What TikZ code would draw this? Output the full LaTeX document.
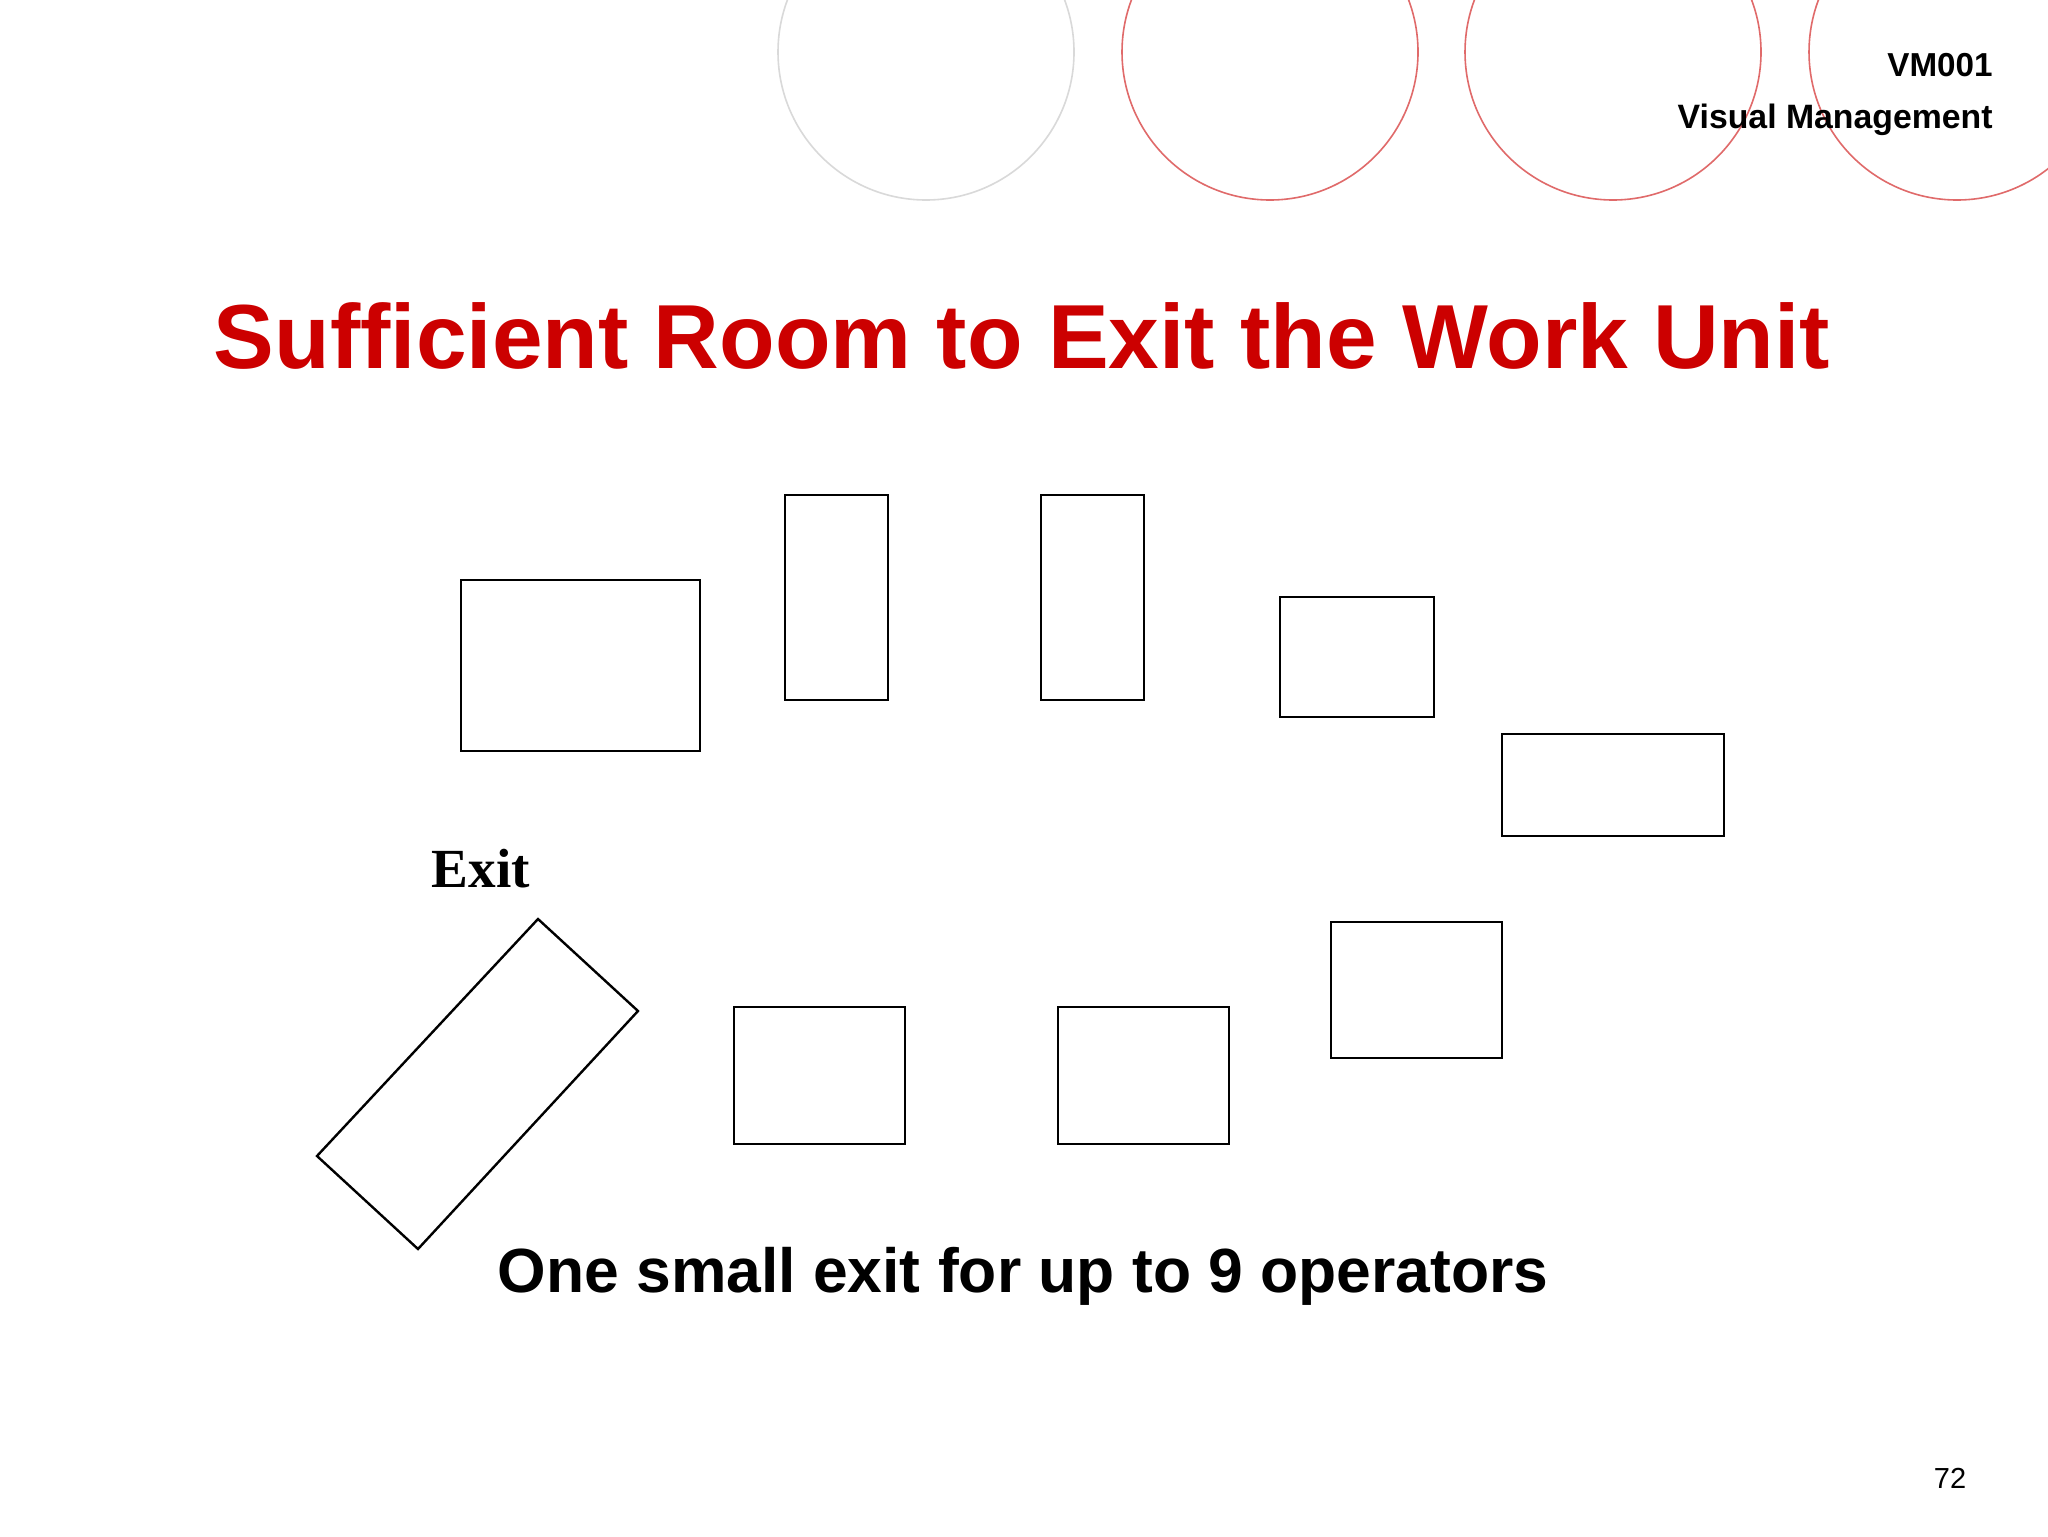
\documentclass[tikz,border=0pt]{standalone}
\usepackage{fontspec}
\setmainfont{Liberation Sans}
\newfontfamily\timesfont{Liberation Serif}
\definecolor{titlered}{HTML}{CC0000}
\definecolor{ringred}{HTML}{E06A6A}
\definecolor{ringgray}{HTML}{D9D9D9}
\tikzset{
  ring/.style={line width=0.8pt},
  box/.style={draw=black, line width=1.2pt},
  label/.style={inner sep=0pt, anchor=base}
}
\begin{document}
\begin{tikzpicture}[x=0.5pt,y=-0.5pt]
\useasboundingbox (0,0) rectangle (2048,1536);
\fill[white] (0,0) rectangle (2048,1536);
\begin{scope}
\clip (0,0) rectangle (2048,1536);
\draw[ring, draw=ringgray] (926,52) circle (148);
\draw[ring, draw=ringred] (1270,52) circle (148);
\draw[ring, draw=ringred] (1613,52) circle (148);
\draw[ring, draw=ringred] (1957,52) circle (148);
\end{scope}
\node[label, anchor=base east, font=\bfseries\fontsize{16.6pt}{20pt}\selectfont] (code) at (1993,77) {VM001};
\node[label, anchor=base east, font=\bfseries\fontsize{16.9pt}{20pt}\selectfont] (sub) at (1993,128) {Visual Management};
\node[label, text=titlered, font=\bfseries\fontsize{45.5pt}{54pt}\selectfont] (title) at (1022,368) {Sufficient Room to Exit the Work Unit};
% work stations
\draw[box] (461,580) rectangle (700,751);
\draw[box] (785,495) rectangle (888,700);
\draw[box] (1041,495) rectangle (1144,700);
\draw[box] (1280,597) rectangle (1434,717);
\draw[box] (1502,734) rectangle (1724,836);
\draw[box] (1331,922) rectangle (1502,1058);
\draw[box] (734,1007) rectangle (905,1144);
\draw[box] (1058,1007) rectangle (1229,1144);
% tilted station at the exit
\coordinate (t1) at (538,919);
\coordinate (t2) at (638,1011);
\coordinate (t3) at (418,1249);
\coordinate (t4) at (317,1156);
\draw[box, line join=miter] (t1) -- (t2) -- (t3) -- (t4) -- cycle;
\node[label, font=\timesfont\bfseries\fontsize{27.6pt}{32pt}\selectfont] (exit) at (481,887) {Exit};
\node[label, font=\bfseries\fontsize{31.2pt}{36pt}\selectfont] (note) at (1023,1292) {One small exit for up to 9 operators};
\node[label, font=\fontsize{14.5pt}{17pt}\selectfont] (page) at (1950,1488) {72};
\end{tikzpicture}
\end{document}
